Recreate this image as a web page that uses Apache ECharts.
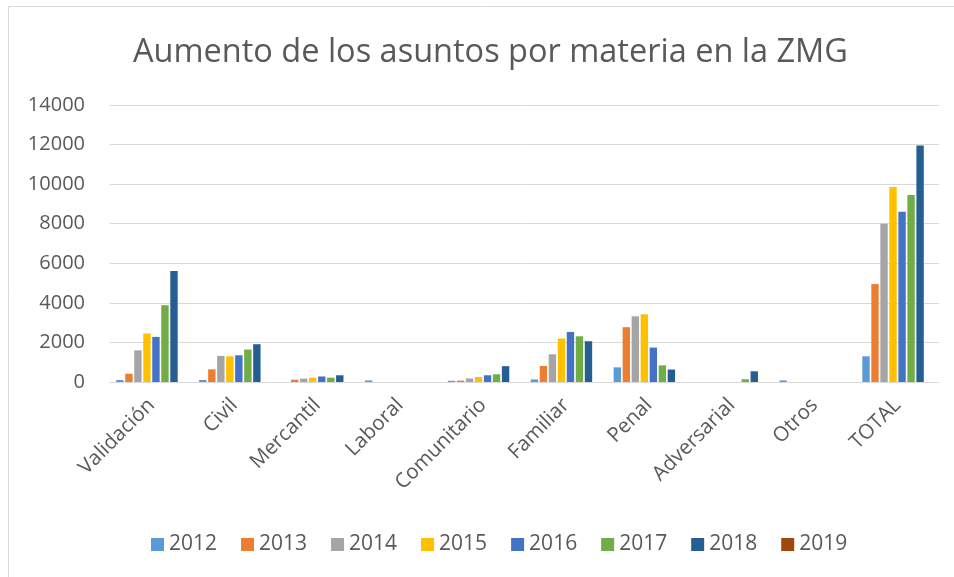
<!DOCTYPE html>
<html>

<head>
	<meta charset="UTF-8" />
	<title>Aumento de los asuntos por materia en la ZMG</title>
	<style>
		html, body { margin: 0; padding: 0; background: #fff; }
		#chart { width: 954px; height: 577px; }
	</style>
	<script type="text/javascript" src="https://cdn.jsdelivr.net/npm/echarts@6/dist/echarts.min.js"></script>
</head>

<body>
	<div id="chart"></div>

	<script>
		var categories = ["Validación", "Civil", "Mercantil", "Laboral", "Comunitario", "Familiar", "Penal", "Adversarial", "Otros", "TOTAL"];
		var years = ["2012", "2013", "2014", "2015", "2016", "2017", "2018", "2019"];
		var yTicks = [0, 2000, 4000, 6000, 8000, 10000, 12000, 14000];

		// valores por año, en el orden de categories
		var v2012 = [100, 100, 0, 80, 60, 130, 740, 0, 80, 1300];
		var v2013 = [420, 640, 120, 0, 70, 810, 2770, 0, 0, 4950];
		var v2014 = [1600, 1320, 170, 0, 180, 1400, 3320, 0, 0, 8000];
		var v2015 = [2450, 1300, 220, 0, 250, 2200, 3420, 0, 0, 9850];
		var v2016 = [2280, 1350, 280, 0, 340, 2530, 1740, 0, 0, 8600];
		var v2017 = [3880, 1640, 220, 0, 390, 2310, 840, 140, 0, 9450];
		var v2018 = [5610, 1910, 340, 0, 800, 2060, 630, 540, 0, 11950];
		var v2019 = [0, 0, 0, 0, 0, 0, 0, 0, 0, 0];

		var values = [v2012, v2013, v2014, v2015, v2016, v2017, v2018, v2019];
		var colors = ["#5B9BD5", "#ED7D31", "#A5A5A5", "#FFC000", "#4472C4", "#70AD47", "#255E91", "#9E480E"];

		var font = "'Open Sans', sans-serif";
		var textColor = "#595959";
		var myChart = echarts.init(document.getElementById("chart"));

		var series = years.map(function (y, i) {
			return {
				name: y,
				type: "bar",
				data: values[i],
				barGap: "22%",
				barCategoryGap: "15%",
				itemStyle: { color: colors[i] },
			};
		});

		var option = {
			animation: false,
			color: colors,
			title: {
				text: "Aumento de los asuntos por materia en la ZMG",
				left: 128,
				top: 31,
				textStyle: {
					fontFamily: font,
					fontSize: 32.5,
					fontWeight: "normal",
					color: textColor,
				},
			},
			legend: {
				data: years,
				bottom: 17,
				left: 146,
				icon: "rect",
				itemWidth: 13,
				itemHeight: 13,
				itemGap: 24,
				textStyle: { fontFamily: font, fontSize: 21, color: textColor },
			},
			grid: {
				left: 110,
				right: 15,
				top: 105,
				bottom: 195,
			},
			xAxis: {
				type: "category",
				data: categories,
				axisLine: { lineStyle: { color: "#d9d9d9", width: 1 } },
				axisTick: { show: false },
				axisLabel: {
					rotate: 45,
					interval: 0,
					margin: 20,
					fontFamily: font,
					fontSize: 20.5,
					color: textColor,
				},
			},
			yAxis: {
				type: "value",
				min: yTicks[0],
				max: yTicks[yTicks.length - 1],
				interval: yTicks[1] - yTicks[0],
				axisLine: { show: false },
				axisTick: { show: false },
				axisLabel: {
					margin: 25,
					fontFamily: font,
					fontSize: 20,
					color: textColor,
					formatter: function (v) { return String(v); },
				},
				splitLine: { lineStyle: { color: "#d9d9d9", width: 1 } },
			},
			graphic: [
				{ type: "line", shape: { x1: 8.5, y1: 6.5, x2: 8.5, y2: 577 }, style: { stroke: "#d9d9d9", lineWidth: 1 } },
				{ type: "line", shape: { x1: 8.5, y1: 6.5, x2: 954, y2: 6.5 }, style: { stroke: "#d9d9d9", lineWidth: 1 } },
			],
			series: series,
		};

		myChart.setOption(option);
	</script>
</body>

</html>
